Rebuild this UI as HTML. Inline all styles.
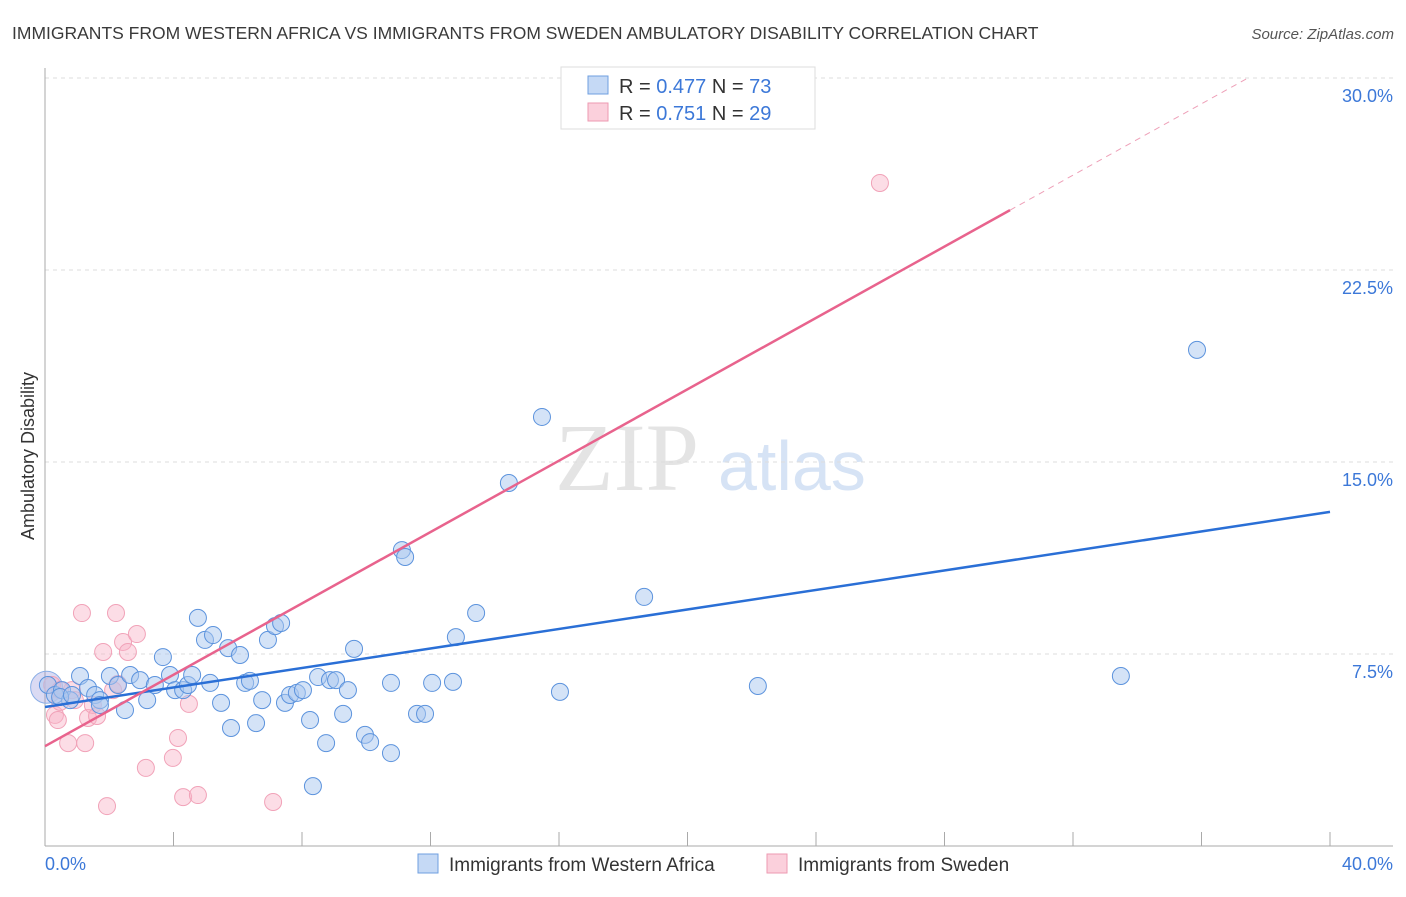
<!DOCTYPE html>
<html><head><meta charset="utf-8"><style>
body{margin:0;background:#fff;font-family:"Liberation Sans",sans-serif;}
svg text{font-family:"Liberation Sans",sans-serif;}
</style></head><body>
<svg id="c" width="1406" height="892">
<text x="12" y="39" font-size="17.5" fill="#3a3a3a">IMMIGRANTS FROM WESTERN AFRICA VS IMMIGRANTS FROM SWEDEN AMBULATORY DISABILITY CORRELATION CHART</text>
<text x="1394" y="39" font-size="15" fill="#555" font-style="italic" text-anchor="end">Source: ZipAtlas.com</text>
<text x="34" y="456" font-size="18" fill="#333" text-anchor="middle" transform="rotate(-90 34 456)">Ambulatory Disability</text>
<text x="555" y="490" font-size="96" fill="#e4e4e4" font-family="Liberation Serif" style="font-family:'Liberation Serif',serif">ZIP</text>
<text x="718" y="490" font-size="70" fill="#d6e3f5">atlas</text>
<g id="grid"></g><g id="axes"></g><g id="pts"></g><g id="lines"></g>
<g>
<rect x="561" y="67" width="254" height="62" fill="#fff" stroke="#ddd"/>
<rect x="588" y="76" width="20" height="18" fill="#c5d9f5" stroke="#6f9fe0"/>
<rect x="588" y="103" width="20" height="18" fill="#fbd0dc" stroke="#ee9ab2"/>
<text x="619" y="93" font-size="20" fill="#333">R = <tspan fill="#3c78d8">0.477</tspan>   N = <tspan fill="#3c78d8">73</tspan></text>
<text x="619" y="120" font-size="20" fill="#333">R =  <tspan fill="#3c78d8">0.751</tspan>   N = <tspan fill="#3c78d8">29</tspan></text>
</g>
<g>
<rect x="418" y="854" width="20" height="19" fill="#c5d9f5" stroke="#6f9fe0"/>
<text x="449" y="871" font-size="19" fill="#333">Immigrants from Western Africa</text>
<rect x="767" y="854" width="20" height="19" fill="#fbd0dc" stroke="#ee9ab2"/>
<text x="798" y="871" font-size="19" fill="#333">Immigrants from Sweden</text>
</g>
</svg>
<script>
const blueX=[0.09,0.31,0.53,0.78,1.09,1.34,1.56,1.71,2.02,2.27,2.49,2.65,2.96,3.18,3.42,3.67,3.89,4.05,4.30,4.45,4.58,4.76,4.98,5.14,5.23,5.48,5.70,5.79,6.07,6.23,6.38,6.57,6.76,6.94,7.16,7.35,7.47,7.63,7.84,8.03,8.25,8.50,8.75,8.87,9.06,9.28,9.43,9.62,9.96,10.12,10.77,10.77,11.11,11.21,11.58,11.83,12.05,12.70,12.79,13.42,14.44,15.47,16.03,18.65,22.19,33.49,35.86,8.34,1.71,0.47,0.84];
const blueY=[6.29,5.90,6.09,5.70,6.64,6.17,5.90,5.70,6.64,6.29,5.31,6.68,6.48,5.70,6.29,7.38,6.68,6.09,6.09,6.29,6.68,8.91,8.05,6.37,8.24,5.59,7.73,4.61,7.46,6.37,6.45,4.80,5.70,8.05,8.59,8.71,5.59,5.90,5.98,6.09,4.92,6.60,4.02,6.48,6.48,5.16,6.09,7.70,4.34,4.06,3.63,6.37,11.56,11.29,5.16,5.16,6.37,6.41,8.16,9.10,14.18,16.76,6.02,9.73,6.25,6.64,19.38,2.34,5.51,5.82,5.90];
const pinkX=[0.22,0.31,0.40,0.47,0.72,0.84,1.15,1.25,1.34,1.49,1.62,1.81,1.93,2.12,2.21,2.27,2.43,2.58,2.86,3.14,3.98,4.14,4.30,4.48,4.76,7.10,25.99,0.47,0.93];
const pinkY=[6.29,5.12,4.92,5.63,4.02,6.09,9.10,4.02,5.00,5.51,5.08,7.58,1.56,6.09,9.10,6.33,7.97,7.58,8.28,3.05,3.44,4.22,1.91,5.55,1.99,1.72,25.90,6.09,5.70];
const yTicks=[7.5,15.0,22.5,30.0];
const xTickVals=[0,4,8,12,16,20,24,28,32,36,40];
const blueLine=[5.43,13.05]; // y at x=0 and x=40
const pinkLine=[3.9,0.697]; // intercept, slope
const NS="http://www.w3.org/2000/svg";
const X=v=>45+v*32.125, Y=v=>846-v*25.6;
function mk(t,a,p){const e=document.createElementNS(NS,t);for(const k in a)e.setAttribute(k,a[k]);p.appendChild(e);return e;}
const grid=document.getElementById('grid'),axes=document.getElementById('axes'),pts=document.getElementById('pts'),lines=document.getElementById('lines');
yTicks.forEach(v=>{
 const l=mk('line',{x1:45,x2:1393,y1:Y(v),y2:Y(v),stroke:'#ddd','stroke-dasharray':'4,4'},grid);
 
 
 const t=mk('text',{x:1393,y:Y(v)+24,'font-size':18,fill:'#3c78d8','text-anchor':'end'},grid);
 t.textContent=v.toFixed(1)+'%';
 
 
});
mk('line',{x1:45,x2:45,y1:68,y2:846,stroke:'#aaa'},axes);
mk('line',{x1:45,x2:1393,y1:846,y2:846,stroke:'#aaa'},axes);
xTickVals.forEach(v=>{const l=mk('line',{x1:X(v),x2:X(v),y1:832,y2:846,stroke:'#aaa'},axes);
 
 });
const t0=mk('text',{x:45,y:870,'font-size':18,fill:'#3c78d8'},axes);t0.textContent='0.0%';


const t1=mk('text',{x:1393,y:870,'font-size':18,fill:'#3c78d8','text-anchor':'end'},axes);t1.textContent='40.0%';


const big=mk('circle',{cx:X(0.05),cy:Y(6.2),r:16,fill:'rgba(150,150,220,0.35)',stroke:'#8aaee6'},pts);


pinkX.forEach((x,i)=>{const c=mk('circle',{cx:X(x),cy:Y(pinkY[i]),r:8.5,fill:'rgba(248,180,200,0.45)',stroke:'#f1a2b8'},pts);
 
 });
blueX.forEach((x,i)=>{const c=mk('circle',{cx:X(x),cy:Y(blueY[i]),r:8.5,fill:'rgba(170,200,240,0.5)',stroke:'#5c93dd'},pts);
 
 });
const bl=mk('line',{x1:X(0),y1:Y(blueLine[0]),x2:X(40),y2:Y(blueLine[1]),stroke:'#2a6fd6','stroke-width':2.5},lines);


const xe=30.04, xd=(30-pinkLine[0])/pinkLine[1];
const pl=mk('line',{x1:X(0),y1:Y(pinkLine[0]),x2:X(xe),y2:Y(pinkLine[0]+pinkLine[1]*xe),stroke:'#e8638d','stroke-width':2.5},lines);


const pd=mk('line',{x1:X(xe),y1:Y(pinkLine[0]+pinkLine[1]*xe),x2:X(xd),y2:Y(30),stroke:'#eea0b8','stroke-width':1,'stroke-dasharray':'6,5'},lines);


</script>
</body></html>
